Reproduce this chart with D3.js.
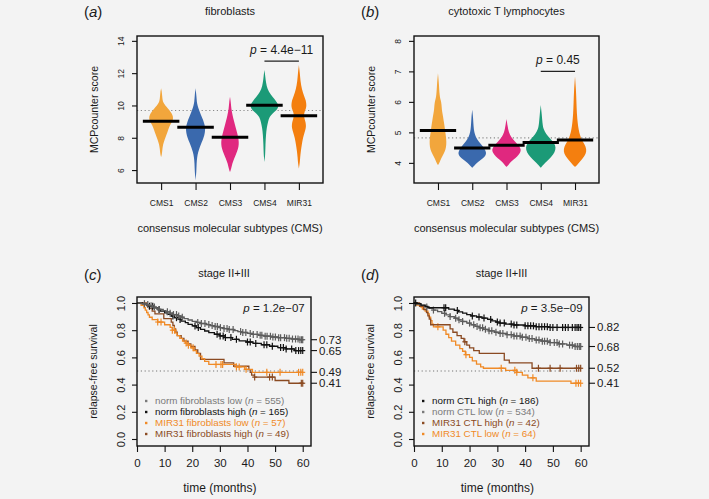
<!DOCTYPE html>
<html><head><meta charset="utf-8">
<script src="https://cdn.jsdelivr.net/npm/d3@7"></script>
<style>
html,body{margin:0;padding:0;background:#f3f3f3;}
svg{display:block;font-family:"Liberation Sans",Arial,Helvetica,sans-serif;}
</style></head><body>
<svg id="chart" width="709" height="499"></svg>
<script>
// ---------------- data ----------------
const categories = ["CMS1", "CMS2", "CMS3", "CMS4", "MIR31"];
const violinColors = ["#f2a63c", "#3a69ad", "#e0287f", "#1b9a77", "#f47f0f"];

// fibroblasts: [score, relative density]
const fibMedians = [9.03, 8.65, 8.03, 10.02, 9.36];
const fibOverall = 9.69;
const fibYTicks = [6, 8, 10, 12, 14];
const fibDensity = [
  [[11.06,0],[10.8,0.06],[10.4,0.09],[10.2,0.14],[10.0,0.29],[9.8,0.5],[9.6,0.68],[9.4,0.82],[9.2,0.86],[9.0,0.79],[8.8,0.64],[8.5,0.5],[8.2,0.39],[7.9,0.25],[7.6,0.14],[7.3,0.09],[7.0,0.06],[6.8,0]],
  [[11.06,0],[10.6,0.06],[10.2,0.09],[10.0,0.14],[9.7,0.25],[9.4,0.39],[9.1,0.54],[8.8,0.64],[8.6,0.69],[8.3,0.66],[8.0,0.57],[7.7,0.43],[7.4,0.29],[7.1,0.18],[6.8,0.11],[6.4,0.07],[5.9,0.06],[5.37,0]],
  [[10.54,0],[10.2,0.06],[9.8,0.09],[9.4,0.18],[9.0,0.29],[8.6,0.41],[8.2,0.54],[7.9,0.61],[7.6,0.63],[7.3,0.57],[7.0,0.43],[6.7,0.29],[6.4,0.16],[6.1,0.09],[5.88,0]],
  [[12.2,0],[11.8,0.06],[11.4,0.11],[11.0,0.21],[10.7,0.43],[10.4,0.71],[10.1,0.96],[9.9,1.0],[9.7,0.86],[9.5,0.57],[9.3,0.36],[9.0,0.25],[8.6,0.16],[8.2,0.11],[7.6,0.07],[7.0,0.06],[6.5,0]],
  [[12.5,0],[12.0,0.07],[11.5,0.11],[11.0,0.21],[10.6,0.36],[10.3,0.5],[10.0,0.54],[9.8,0.5],[9.6,0.39],[9.4,0.36],[9.2,0.39],[9.0,0.46],[8.8,0.5],[8.6,0.5],[8.3,0.39],[8.0,0.29],[7.6,0.21],[7.2,0.14],[6.8,0.09],[6.4,0.06],[6.1,0]]
];
const fibPValue = "4.4e\u221211";
const fibPLevel = 12.75;

// cytotoxic T lymphocytes
const ctlMedians = [5.06, 4.49, 4.58, 4.67, 4.75];
const ctlOverall = 4.82;
const ctlYTicks = [4, 5, 6, 7, 8];
const ctlDensity = [
  [[6.94,0],[6.6,0.07],[6.2,0.11],[6.05,0.2],[5.9,0.26],[5.75,0.27],[5.6,0.33],[5.4,0.4],[5.2,0.47],[5.0,0.52],[4.8,0.59],[4.6,0.6],[4.45,0.55],[4.3,0.41],[4.15,0.23],[4.0,0.1],[3.93,0]],
  [[5.74,0],[5.5,0.06],[5.2,0.09],[5.0,0.14],[4.85,0.25],[4.7,0.45],[4.55,0.74],[4.4,0.96],[4.3,1.0],[4.2,0.9],[4.1,0.62],[4.0,0.34],[3.9,0.13],[3.84,0]],
  [[5.44,0],[5.2,0.08],[5.0,0.16],[4.85,0.32],[4.7,0.6],[4.55,0.9],[4.45,1.03],[4.35,1.0],[4.2,0.76],[4.1,0.48],[4.0,0.24],[3.9,0.09],[3.87,0]],
  [[5.9,0],[5.6,0.07],[5.3,0.12],[5.1,0.19],[4.95,0.38],[4.8,0.66],[4.65,0.96],[4.5,1.08],[4.35,1.0],[4.2,0.76],[4.05,0.44],[3.95,0.2],[3.84,0]],
  [[6.83,0],[6.4,0.07],[6.0,0.1],[5.6,0.13],[5.3,0.19],[5.08,0.26],[4.9,0.36],[4.75,0.48],[4.6,0.69],[4.45,0.82],[4.3,0.78],[4.15,0.56],[4.0,0.28],[3.9,0.1],[3.87,0]]
];
const ctlPValue = "0.45";
const ctlPLevel = 7.0;

// survival panels
const survYTicks = [0, 0.2, 0.4, 0.6, 0.8, 1.0];
const survXTicks = [0, 10, 20, 30, 40, 50, 60];
const survEnd = 60;

// (c) fibroblasts
const cNames = ["norm fibroblasts low", "norm fibroblasts high", "MIR31 fibroblasts low", "MIR31 fibroblasts high"];
const cN = [555, 165, 57, 49];
const cColors = ["#5c5c5c", "#111111", "#f08a26", "#8a4a22"];
const cTextColors = ["#7a7a7a", "#111111", "#f08a26", "#8a4a22"];
const cTimes = [
  [1.5,3,4.5,5.5,7,8,9.5,10.5,12,13,14.5,16,17,18.5,20,21.5,23,25,26.5,28,30,31.5,33,35,36.5,38,40,42,44,46,48.5,51,53.5,56,58.5],
  [2,3.5,4.5,6,7.5,8.5,10,11,12.5,13.5,15,16,17.5,18.5,20,21.5,23,24.5,26,28,30,32,34.5,37,39.5,42,45,48,51,54,57],
  [1.5,2.5,3,3.5,4,4.5,5.5,7.5,10,12,12.8,13.8,14.5,15.5,16.5,17.5,18.5,19.5,20.5,21.5,22.5,23.5,24.5,26,36,39,41.8],
  [3.5,4.5,5.5,6.5,9.7,12.4,13,13.5,14,14.6,16,17,18.5,19.5,21,22,23,31.5,35,40.5,41,41.5,42.5,50,55]
];
const cSurv = [
  [0.995,0.988,0.98,0.97,0.96,0.952,0.944,0.935,0.925,0.915,0.905,0.895,0.885,0.875,0.865,0.857,0.849,0.841,0.834,0.827,0.819,0.812,0.805,0.797,0.79,0.783,0.776,0.769,0.762,0.756,0.75,0.745,0.74,0.735,0.73],
  [0.994,0.988,0.976,0.964,0.952,0.94,0.928,0.916,0.904,0.892,0.879,0.867,0.855,0.843,0.831,0.819,0.806,0.794,0.782,0.77,0.758,0.746,0.733,0.721,0.713,0.703,0.693,0.682,0.672,0.662,0.65],
  [0.982,0.965,0.947,0.93,0.912,0.895,0.877,0.86,0.84,0.82,0.80,0.78,0.76,0.74,0.72,0.705,0.69,0.67,0.65,0.63,0.61,0.59,0.57,0.548,0.53,0.512,0.49],
  [0.98,0.96,0.94,0.92,0.885,0.86,0.835,0.81,0.785,0.76,0.74,0.72,0.70,0.68,0.655,0.63,0.585,0.56,0.535,0.51,0.49,0.47,0.455,0.43,0.41]
];
const cCensor = [
  [2.7,3.9,5.1,6.3,8.1,11,12,13.2,14.3,15.1,16.4,22,23.3,24.6,26,27.2,28.3,29.1,30.2,31.5,32.6,33.4,34.8,37.5,38.3,39.4,41,42.1,43.5,44.6,45.2,46.4,47.1,48.3,49.2,50.1,51.3,52,53.4,54.2,55.1,56.3,57.4,58.3,59,59.6,60],
  [4.5,5.7,8,13,14.3,15.6,21,22.2,29,30.1,31.2,32,34,36,40,41,43,46,47,49,52,53,54,56,57.5,58.5,59.3,60],
  [7.5,8.7,12.8,13.6,17.8,18.6,20.3,28.6,30.4,31,36,37,39.5,47,51.8,58.5,59.3,60],
  [42.6,48,49,59.5,60]
];
const cEndLabels = ["0.73", "0.65", "0.49", "0.41"];
const cEndValues = [0.73, 0.65, 0.49, 0.41];
const cPValue = "1.2e\u221207";

// (d) cytotoxic T lymphocytes
const dNames = ["norm CTL high", "norm CTL low", "MIR31 CTL high", "MIR31 CTL low"];
const dN = [186, 534, 42, 64];
const dColors = ["#111111", "#5c5c5c", "#8a4a22", "#f08a26"];
const dTextColors = ["#111111", "#7a7a7a", "#8a4a22", "#f08a26"];
const dTimes = [
  [1,2.5,4,5,12.5,14.5,16,17.5,19,20.5,22.5,24.5,26.5,28,29.5,31,33,36,40,44,48.5],
  [1,2.5,4,5.5,7,8.5,10,11.5,13,14.5,16,17.5,19,20.5,22,23.5,25,27,29,31,33.5,36,38.5,41,43.5,46,49,52,55,58],
  [2,3.5,4.5,5,5.5,6,13,14,15.5,17,18,19,20,21.5,23.5,32.5,34.3,42.5],
  [1,2.5,3,4,5,5.5,6,6.5,7,10.5,11.5,12.5,13.5,15,16.5,17.5,18.5,20,21,22.5,24,25,33,37,39,41,44,56.5]
];
const dSurv = [
  [0.995,0.985,0.975,0.965,0.955,0.945,0.935,0.925,0.915,0.905,0.897,0.889,0.879,0.869,0.86,0.852,0.845,0.838,0.832,0.826,0.82],
  [0.992,0.982,0.971,0.96,0.948,0.936,0.924,0.912,0.9,0.888,0.876,0.864,0.852,0.84,0.828,0.817,0.806,0.795,0.785,0.776,0.767,0.757,0.748,0.738,0.728,0.719,0.709,0.699,0.69,0.68],
  [0.976,0.952,0.929,0.905,0.881,0.84,0.81,0.785,0.76,0.74,0.715,0.69,0.67,0.65,0.63,0.58,0.56,0.52],
  [0.985,0.97,0.955,0.94,0.92,0.895,0.87,0.845,0.825,0.80,0.77,0.745,0.72,0.69,0.665,0.645,0.62,0.60,0.575,0.55,0.53,0.52,0.505,0.49,0.47,0.45,0.425,0.41]
];
const dCensor = [
  [0.6,10.8,11.4,15.6,21,23.4,25.2,27.6,30,31,32.5,35,36,37,40,41,42,43,44,45,46,47,48,49,50,51.5,53.5,54.5,55.5,57,58,58.7,59.3,60],
  [4.6,7,11,13,15,16.2,17.5,20,21.5,22.7,23.8,24.7,25.7,27,28,29.5,31,32,33.5,35,36,37,38.2,39,40.3,41.5,42.5,44,45,46.2,47,48,49,50.5,51.5,52.3,53.5,56,57,58,58.8,59.5,60],
  [18.3,44.8,49,52.6,58.5,59.3,60],
  [8.6,18.7,31.4,36.3,37,42.8,58.3,59.2,60]
];
const dEndLabels = ["0.82", "0.68", "0.52", "0.41"];
const dEndValues = [0.82, 0.68, 0.52, 0.41];
const dPValue = "3.5e\u221209";

// ---------------- drawing ----------------
const svg = d3.select("#chart");
svg.append("rect").attr("width", 709).attr("height", 499).attr("fill", "#f3f3f3");
const TXT = "#1a1a1a";

function panelLabel(x, y, letter) {
  const t = svg.append("text").attr("x", x).attr("y", y).attr("font-size", 15).attr("fill", TXT);
  t.append("tspan").text("(");
  t.append("tspan").attr("font-style", "italic").text(letter);
  t.append("tspan").text(")");
}

function pText(g, x, y, anchor, value, size) {
  const t = g.append("text").attr("x", x).attr("y", y).attr("text-anchor", anchor)
    .attr("font-size", size).attr("fill", TXT);
  t.append("tspan").attr("font-style", "italic").text("p");
  t.append("tspan").text(" = " + value);
}

function violinPanel(o) {
  const x = d3.scaleLinear().domain([0.3, 5.7]).range([o.left, o.right]);
  const y = d3.scaleLinear().domain(o.yDomain).range([o.bottom, o.top]);
  const w = d3.scaleLinear().domain([0, 1]).range([0, (x(1) - x(0)) * 0.41]);
  const g = svg.append("g");

  g.append("line").attr("x1", o.left).attr("x2", o.right)
    .attr("y1", y(o.overall)).attr("y2", y(o.overall))
    .attr("stroke", "#8a8a8a").attr("stroke-width", 1.1).attr("stroke-dasharray", "1.2,2.6");

  const area = (i) => d3.area()
    .y(d => y(d[0]))
    .x0(d => x(i + 1) - w(d[1]))
    .x1(d => x(i + 1) + w(d[1]))
    .curve(d3.curveBasis);

  o.density.forEach((dens, i) => {
    g.append("path").attr("d", area(i)(dens)).attr("fill", violinColors[i]);
  });
  o.medians.forEach((m, i) => {
    g.append("line").attr("x1", x(i + 1 - 0.53)).attr("x2", x(i + 1 + 0.53))
      .attr("y1", y(m)).attr("y2", y(m)).attr("stroke", "#000").attr("stroke-width", 3);
  });

  g.append("line").attr("x1", x(4)).attr("x2", x(5)).attr("y1", y(o.pLevel)).attr("y2", y(o.pLevel))
    .attr("stroke", "#222").attr("stroke-width", 1.2);
  pText(g, (x(4) + x(5)) / 2, y(o.pLevel) - 7, "middle", o.pValue, 12);

  g.append("rect").attr("x", o.left).attr("y", o.top).attr("width", o.right - o.left)
    .attr("height", o.bottom - o.top).attr("fill", "none").attr("stroke", "#111").attr("stroke-width", 1.4);

  const ya = g.append("g").attr("transform", `translate(${o.left},0)`)
    .call(d3.axisLeft(y).tickValues(o.yTicks).tickSize(5).tickSizeOuter(0).tickFormat(d3.format("d")));
  ya.select(".domain").remove();
  ya.selectAll("line").attr("stroke", "#111").attr("stroke-width", 1.1);
  ya.selectAll("text").attr("x", 0).attr("y", -13).attr("dy", 0).attr("text-anchor", "middle")
    .attr("transform", "rotate(-90)").attr("font-size", 8.5).attr("fill", TXT)
    .attr("font-family", "Liberation Sans, Arial, sans-serif");

  const xa = g.append("g").attr("transform", `translate(0,${o.bottom})`)
    .call(d3.axisBottom(x).tickValues([1, 2, 3, 4, 5]).tickSize(7).tickSizeOuter(0)
      .tickFormat((d, i) => categories[i]));
  xa.select(".domain").remove();
  xa.selectAll("line").attr("stroke", "#111").attr("stroke-width", 1.1);
  xa.selectAll("text").attr("y", 20).attr("dy", "0.32em").attr("font-size", 8.5).attr("fill", TXT)
    .attr("font-family", "Liberation Sans, Arial, sans-serif");

  const cx = (o.left + o.right) / 2;
  svg.append("text").attr("x", cx).attr("y", 15).attr("text-anchor", "middle")
    .attr("font-size", 11).attr("fill", TXT).text(o.title);
  svg.append("text").attr("x", cx).attr("y", 232).attr("text-anchor", "middle")
    .attr("font-size", 11).attr("fill", TXT).text("consensus molecular subtypes (CMS)");
  svg.append("text").attr("transform", `translate(${o.left - 39},${(o.top + o.bottom) / 2}) rotate(-90)`)
    .attr("text-anchor", "middle").attr("font-size", 10.5).attr("fill", TXT).text("MCPcounter score");
}

function survPanel(o) {
  const x = d3.scaleLinear().domain([0, 63]).range([o.left, o.right]);
  const y = d3.scaleLinear().domain([-0.0515, 1.044]).range([o.bottom, o.top]);
  const g = svg.append("g");

  g.append("line").attr("x1", x(0)).attr("x2", x(survEnd)).attr("y1", y(0.5)).attr("y2", y(0.5))
    .attr("stroke", "#777").attr("stroke-width", 1.1).attr("stroke-dasharray", "1.2,2.6");

  const line = d3.line().x(d => x(d[0])).y(d => y(d[1])).curve(d3.curveStepAfter);
  const stepAt = (times, surv, t) => {
    let s = 1;
    for (let k = 0; k < times.length; k++) { if (times[k] <= t) s = surv[k]; }
    return s;
  };

  [3, 2, 1, 0].forEach(i => {
    const pts = [[0, 1]].concat(o.times[i].map((t, k) => [t, o.surv[i][k]]));
    pts.push([survEnd, o.surv[i][o.surv[i].length - 1]]);
    g.append("path").attr("d", line(pts)).attr("fill", "none")
      .attr("stroke", o.colors[i]).attr("stroke-width", 1.3);
    o.censor[i].forEach(t => {
      const cx = x(t), cy = y(stepAt(o.times[i], o.surv[i], t));
      g.append("line").attr("x1", cx).attr("x2", cx).attr("y1", cy - 3.5).attr("y2", cy + 3.5)
        .attr("stroke", o.colors[i]).attr("stroke-width", 1.2);
      g.append("line").attr("x1", cx - 2.5).attr("x2", cx + 2.5).attr("y1", cy).attr("y2", cy)
        .attr("stroke", o.colors[i]).attr("stroke-width", 1.2);
    });
  });

  g.append("rect").attr("x", o.left).attr("y", o.top).attr("width", o.right - o.left)
    .attr("height", o.bottom - o.top).attr("fill", "none").attr("stroke", "#111").attr("stroke-width", 1.4);

  const ya = g.append("g").attr("transform", `translate(${o.left},0)`)
    .call(d3.axisLeft(y).tickValues(survYTicks).tickSize(5).tickSizeOuter(0).tickFormat(d3.format(".1f")));
  ya.select(".domain").remove();
  ya.selectAll("line").attr("stroke", "#111").attr("stroke-width", 1.1);
  ya.selectAll("text").attr("x", 0).attr("y", -12).attr("dy", 0).attr("text-anchor", "middle")
    .attr("transform", "rotate(-90)").attr("font-size", 11).attr("fill", TXT)
    .attr("font-family", "Liberation Sans, Arial, sans-serif");

  const xa = g.append("g").attr("transform", `translate(0,${o.bottom})`)
    .call(d3.axisBottom(x).tickValues(survXTicks).tickSize(6).tickSizeOuter(0).tickFormat(d3.format("d")));
  xa.select(".domain").remove();
  xa.selectAll("line").attr("stroke", "#111").attr("stroke-width", 1.1);
  xa.selectAll("text").attr("y", 17).attr("dy", "0.32em").attr("font-size", 11.5).attr("fill", TXT)
    .attr("font-family", "Liberation Sans, Arial, sans-serif");

  o.endValues.forEach((v, i) => {
    g.append("line").attr("x1", o.right).attr("x2", o.right + 6).attr("y1", y(v)).attr("y2", y(v))
      .attr("stroke", "#111").attr("stroke-width", 1.1);
    g.append("text").attr("x", o.right + 8).attr("y", y(v)).attr("dy", "0.35em")
      .attr("font-size", 11.5).attr("fill", TXT).text(o.endLabels[i]);
  });

  pText(g, x(60) + 2, o.top + 15, "end", o.pValue, 11.5);

  o.names.forEach((nm, i) => {
    const ly = 401 + i * 11;
    g.append("rect").attr("x", o.left + 8).attr("y", ly - 1.2).attr("width", 2.4).attr("height", 2.4)
      .attr("fill", o.textColors[i]);
    const t = g.append("text").attr("x", o.left + 18).attr("y", ly).attr("dy", "0.35em")
      .attr("font-size", 9.8).attr("fill", o.textColors[i]);
    t.append("tspan").text(nm + " (");
    t.append("tspan").attr("font-style", "italic").text("n");
    t.append("tspan").text(" = " + o.n[i] + ")");
  });

  const cx = (o.left + o.right) / 2;
  svg.append("text").attr("x", cx).attr("y", 277).attr("text-anchor", "middle")
    .attr("font-size", 11).attr("fill", TXT).text("stage II+III");
  svg.append("text").attr("x", (x(0) + x(60)) / 2).attr("y", 492).attr("text-anchor", "middle")
    .attr("font-size", 12).attr("fill", TXT).text("time (months)");
  svg.append("text").attr("transform", `translate(${o.left - 40},${(o.top + o.bottom) / 2}) rotate(-90)`)
    .attr("text-anchor", "middle").attr("font-size", 10.5).attr("fill", TXT).text("relapse-free survival");
}

violinPanel({left: 137, right: 323, top: 36, bottom: 183, yDomain: [5.2, 14.3],
  density: fibDensity, medians: fibMedians, overall: fibOverall, yTicks: fibYTicks,
  pValue: fibPValue, pLevel: fibPLevel, title: "fibroblasts"});
violinPanel({left: 414, right: 599, top: 36, bottom: 183, yDomain: [3.34, 8.16],
  density: ctlDensity, medians: ctlMedians, overall: ctlOverall, yTicks: ctlYTicks,
  pValue: ctlPValue, pLevel: ctlPLevel, title: "cytotoxic T lymphocytes"});

survPanel({left: 137, right: 311, top: 297, bottom: 446, times: cTimes, surv: cSurv, censor: cCensor,
  colors: cColors, textColors: cTextColors, names: cNames, n: cN, endValues: cEndValues,
  endLabels: cEndLabels, pValue: cPValue});
survPanel({left: 414, right: 589, top: 297, bottom: 446, times: dTimes, surv: dSurv, censor: dCensor,
  colors: dColors, textColors: dTextColors, names: dNames, n: dN, endValues: dEndValues,
  endLabels: dEndLabels, pValue: dPValue});

panelLabel(84, 17, "a");
panelLabel(361, 17, "b");
panelLabel(84, 280, "c");
panelLabel(361, 280, "d");
</script>
</body></html>
